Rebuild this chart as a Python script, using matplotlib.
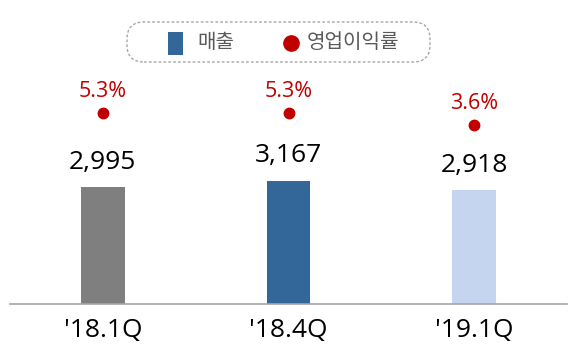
import matplotlib
matplotlib.use("Agg")
import matplotlib.pyplot as plt
from matplotlib.patches import FancyBboxPatch, Rectangle
from matplotlib.lines import Line2D

plt.rcParams['font.family'] = ['Open Sans', 'Noto Sans CJK KR', 'DejaVu Sans']

categories = ["'18.1Q", "'18.4Q", "'19.1Q"]
sales = [2995, 3167, 2918]
sales_labels = ["2,995", "3,167", "2,918"]
margin = [5.3, 5.3, 3.6]
margin_labels = ["5.3%", "5.3%", "3.6%"]
bar_colors = ["#7F7F7F", "#336699", "#C5D5F0"]
legend_labels = ["매출", "영업이익률"]

W, H = 580, 360
fig = plt.figure(figsize=(W / 100, H / 100), dpi=100)

def fx(px):
    return px / W

def fy(py):
    return 1 - py / H

ax_left, ax_right, ax_top, ax_bottom = 10, 567, 40, 304
ax = fig.add_axes([fx(ax_left), fy(ax_bottom), fx(ax_right - ax_left), (ax_bottom - ax_top) / H])
x = list(range(len(categories)))
ax.bar(x, sales, width=0.235, color=bar_colors, zorder=2)
ax.set_xlim(-0.5, 2.5)
ax.set_ylim(0, 6770)
for s in ['top', 'right', 'left']:
    ax.spines[s].set_visible(False)
ax.spines['bottom'].set_color('#A6A6A6')
ax.spines['bottom'].set_linewidth(1.2)
ax.set_yticks([])
ax.set_xticks(x)
ax.set_xticklabels(categories, fontsize=19, color='black')
ax.tick_params(axis='x', length=0, pad=10)

for xi, v, lab in zip(x, sales, sales_labels):
    ax.annotate(lab, (xi, v), xytext=(0, 25 * 0.72), textcoords='offset points',
                ha='center', va='center', fontsize=19, color='black')

ax2 = ax.twinx()
ax2.set_ylim(-21.76, 15.64)
ax2.axis('off')
ax2.plot(x, margin, linestyle='none', marker='o', markersize=7.5, color='#C00000', zorder=3)
for xi, v, lab in zip(x, margin, margin_labels):
    ax2.annotate(lab, (xi, v), xytext=(0, 21 * 0.72), textcoords='offset points',
                 ha='center', va='center', fontsize=15.5, color='#C00000')

# legend box
lx0, lx1, ly0, ly1 = 127, 430, 22, 62
rad = 17
box = FancyBboxPatch((fx(lx0), fy(ly1)), fx(lx1 - lx0), (ly1 - ly0) / H,
                     boxstyle="round,pad=0,rounding_size=%f" % (rad / W),
                     transform=fig.transFigure, facecolor='white', edgecolor='#A6A6A6',
                     linestyle=(0, (2, 1.5)), linewidth=1.0, mutation_aspect=W / H)
fig.add_artist(box)
fig.add_artist(Rectangle((fx(168), fy(55)), fx(15), 23 / H, transform=fig.transFigure,
                         facecolor='#336699', edgecolor='none'))
fig.text(fx(197), fy(43), legend_labels[0], fontsize=14.5, color='#595959', ha='left', va='center',
         family=['Noto Sans CJK KR', 'DejaVu Sans'])
fig.add_artist(Line2D([fx(291)], [fy(43)], marker='o', markersize=11, color='#C00000',
                      linestyle='none', transform=fig.transFigure))
fig.text(fx(307), fy(43), legend_labels[1], fontsize=14.5, color='#595959', ha='left', va='center',
         family=['Noto Sans CJK KR', 'DejaVu Sans'])

fig.savefig("out.png", dpi=100)
